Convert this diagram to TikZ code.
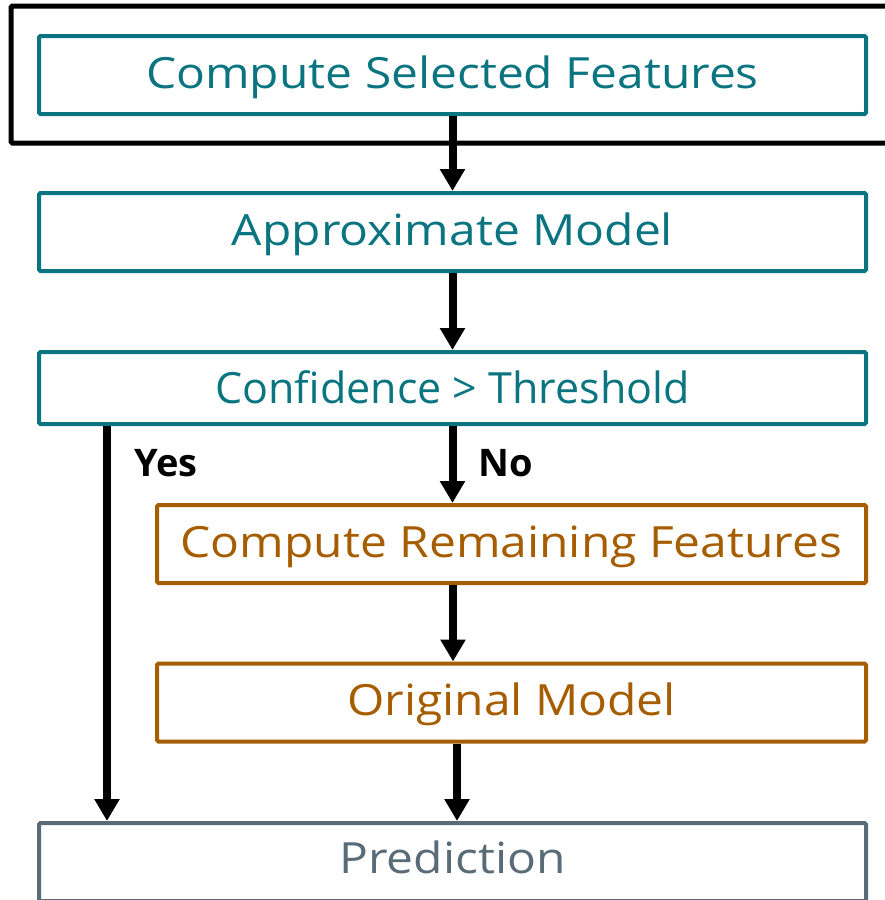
\documentclass[tikz,border=0pt]{standalone}
\usepackage{fontspec}
\setmainfont{Open Sans}
\newfontfamily\stagefont[FakeStretch=1.115]{Open Sans}
\usepackage{tikz}
\usetikzlibrary{arrows.meta, positioning}

\definecolor{stageteal}{RGB}{10,117,128}
\definecolor{stageorange}{RGB}{166,93,0}
\definecolor{stagegray}{RGB}{90,107,120}

\tikzset{
    stagebox/.style={draw=stageteal, text=stageteal, line width=4pt, rounded corners=1.5pt,
        minimum width=827pt, minimum height=78pt, inner sep=0pt, text height=36pt, text depth=10pt,
        font=\stagefont\fontsize{43}{50}\selectfont},
    fullbox/.style={stagebox, draw=stageorange, text=stageorange, minimum width=709pt},
    flow/.style={line width=8pt, -{Triangle[length=22pt, width=24pt]}},
    answer/.style={font=\fontsize{38}{44}\selectfont\bfseries, text=black}
}

\begin{document}
\begin{tikzpicture}[x=1pt, y=-1pt]
    \useasboundingbox (0,0) rectangle (884,900);

    % Outer frame (cut at the right)
    \draw[line width=5pt, rounded corners=1.5pt] (900,6) -- (11,6) -- (11,143) -- (900,143);

    % Boxes
    \node[stagebox] (selected) at (452.5,75) {Compute Selected Features};
    \node[stagebox] (approx) at (452.5,232) {Approximate Model};
    \node[stagebox, minimum height=72pt, text height=30pt, text depth=0pt,
        font=\fontsize{43}{50}\selectfont] (conf) at (452.5,388) {Confidence > Threshold};
    \node[fullbox] (remaining) at (511.5,544) {Compute Remaining Features};
    \node[fullbox] (original) at (511.5,702.5) {Original Model};
    \node[stagebox, draw=stagegray, text=stagegray, text height=32pt] (pred) at (452.5,862) {Prediction};

    % Arrows
    \draw[flow] (selected.south) -- (approx.north);
    \draw[flow] (approx.south) -- (conf.north);
    \draw[flow] (conf.south) -- (conf.south |- remaining.north);
    \draw[flow] ([xshift=-58.5pt]remaining.south) -- ([xshift=-58.5pt]original.north);
    \draw[flow] ([xshift=-54.5pt]original.south) -- ([xshift=-54.5pt]original.south |- pred.north);
    \draw[flow] ([xshift=70pt]conf.south west) -- ([xshift=70pt]pred.north west);

    % Branch labels
    \node[answer] (yes) at (166,463) {Yes};
    \node[answer] (no) at (506,463) {No};
\end{tikzpicture}
\end{document}
